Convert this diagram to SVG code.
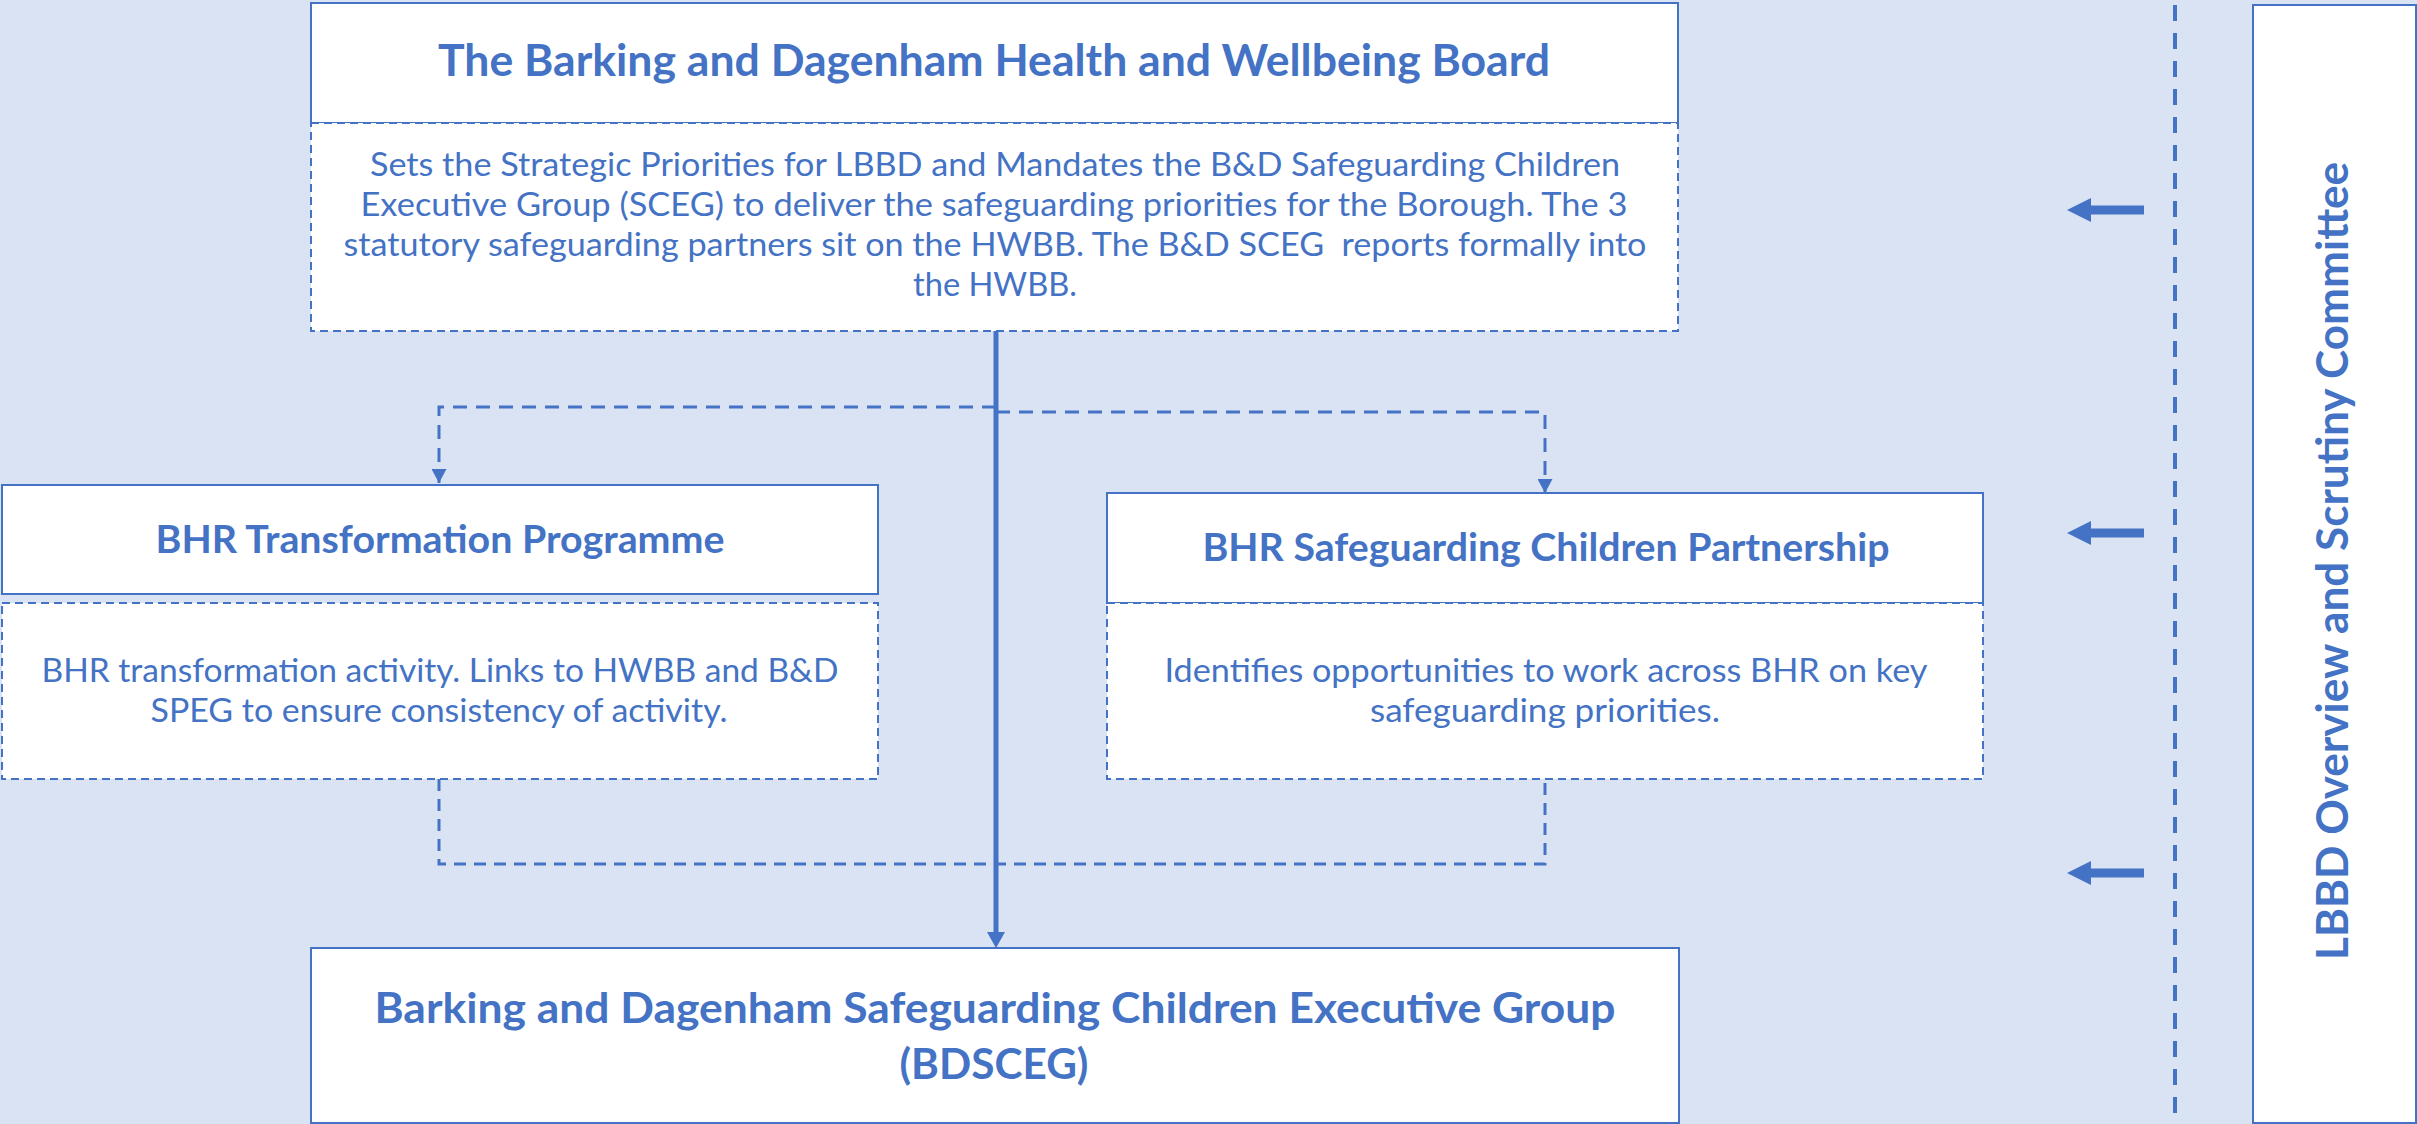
<svg xmlns="http://www.w3.org/2000/svg" width="2417" height="1124" viewBox="0 0 2417 1124">
  <style>
    .bg { fill: #DAE3F3; }
    .box { fill: #FFFFFF; stroke: #4472C4; stroke-width: 2; }
    .dbox { fill: #FFFFFF; stroke: #4472C4; stroke-width: 2; stroke-dasharray: 8 5; }
    .t { font-family: Lato, "Liberation Sans", sans-serif; fill: #4472C4; text-anchor: middle; white-space: pre; }
    .h { font-weight: bold; }
    .conn { fill: none; stroke: #4472C4; }
    .dash { stroke-width: 3; stroke-dasharray: 14 9; }
    .arrow { fill: #4472C4; }
  </style>
  <defs>
    <marker id="headBig" markerUnits="userSpaceOnUse" viewBox="0 0 16 18" markerWidth="16" markerHeight="18" refX="10" refY="9" orient="auto">
      <path d="M0,0 L16,9 L0,18 Z" fill="#4472C4"/>
    </marker>
    <marker id="headSmall" markerUnits="userSpaceOnUse" viewBox="0 0 14 15" markerWidth="14" markerHeight="15" refX="14" refY="7.5" orient="auto">
      <path d="M0,0 L14,7.5 L0,15 Z" fill="#4472C4"/>
    </marker>
  </defs>

  <rect class="bg" x="0" y="0" width="2417" height="1124"/>

  <g id="connectors">
    <path class="conn" d="M996,331 V942" stroke-width="5" marker-end="url(#headBig)"/>
    <path class="conn dash" d="M996,407 H439 V483" marker-end="url(#headSmall)"/>
    <path class="conn dash" d="M996,412 H1545 V493" marker-end="url(#headSmall)"/>
    <path class="conn" d="M439,779 V864 H1545 V780" stroke-width="3" stroke-dasharray="12 8"/>
    <path class="conn" d="M2175,5 V1124" stroke-width="4" stroke-dasharray="16 12"/>
    <polygon class="arrow" points="2067,210 2091,198 2091,205.5 2144,205.5 2144,214.5 2091,214.5 2091,222"/>
    <polygon class="arrow" points="2067,533 2091,521 2091,528.5 2144,528.5 2144,537.5 2091,537.5 2091,545"/>
    <polygon class="arrow" points="2067,873 2091,861 2091,868.5 2144,868.5 2144,877.5 2091,877.5 2091,885"/>
  </g>

  <g id="hwbb">
    <rect class="box" x="311" y="3" width="1367" height="120"/>
    <rect class="dbox" x="311" y="123" width="1367" height="208"/>
    <text class="t h" x="994" y="76" font-size="43" textLength="1112" lengthAdjust="spacingAndGlyphs">The Barking and Dagenham Health and Wellbeing Board</text>
    <text class="t" x="995" y="176" font-size="32" textLength="1250" lengthAdjust="spacingAndGlyphs">Sets the Strategic Priorities for LBBD and Mandates the B&amp;D Safeguarding Children</text>
    <text class="t" x="994" y="216" font-size="32" textLength="1267" lengthAdjust="spacingAndGlyphs">Executive Group (SCEG) to deliver the safeguarding priorities for the Borough. The 3</text>
    <text class="t" x="995" y="256" font-size="32" textLength="1303" lengthAdjust="spacingAndGlyphs">statutory safeguarding partners sit on the HWBB. The B&amp;D SCEG  reports formally into</text>
    <text class="t" x="995" y="296" font-size="32" textLength="164" lengthAdjust="spacingAndGlyphs">the HWBB.</text>
  </g>

  <g id="bhr-transformation">
    <rect class="box" x="2" y="485" width="876" height="109"/>
    <rect class="dbox" x="2" y="603" width="876" height="176"/>
    <text class="t h" x="440" y="553" font-size="39" textLength="569" lengthAdjust="spacingAndGlyphs">BHR Transformation Programme</text>
    <text class="t" x="440" y="682" font-size="32" textLength="797" lengthAdjust="spacingAndGlyphs">BHR transformation activity. Links to HWBB and B&amp;D</text>
    <text class="t" x="439" y="722" font-size="32" textLength="577" lengthAdjust="spacingAndGlyphs">SPEG to ensure consistency of activity.</text>
  </g>

  <g id="bhr-partnership">
    <rect class="box" x="1107" y="493" width="876" height="110"/>
    <rect class="dbox" x="1107" y="603" width="876" height="176"/>
    <text class="t h" x="1546" y="561" font-size="39" textLength="687" lengthAdjust="spacingAndGlyphs">BHR Safeguarding Children Partnership</text>
    <text class="t" x="1546" y="682" font-size="32" textLength="763" lengthAdjust="spacingAndGlyphs">Identifies opportunities to work across BHR on key</text>
    <text class="t" x="1545" y="722" font-size="32" textLength="350" lengthAdjust="spacingAndGlyphs">safeguarding priorities.</text>
  </g>

  <g id="bdsceg">
    <rect class="box" x="311" y="948" width="1368" height="175"/>
    <text class="t h" x="995" y="1023" font-size="42" textLength="1241" lengthAdjust="spacingAndGlyphs">Barking and Dagenham Safeguarding Children Executive Group</text>
    <text class="t h" x="994" y="1079" font-size="42" textLength="189" lengthAdjust="spacingAndGlyphs">(BDSCEG)</text>
  </g>

  <g id="scrutiny">
    <rect class="box" x="2253" y="5" width="163" height="1118" stroke-width="2.5"/>
    <text class="t h" x="0" y="0" font-size="43" textLength="798" lengthAdjust="spacingAndGlyphs" transform="translate(2348,561) rotate(-90)">LBBD Overview and Scrutiny Committee</text>
  </g>
</svg>
